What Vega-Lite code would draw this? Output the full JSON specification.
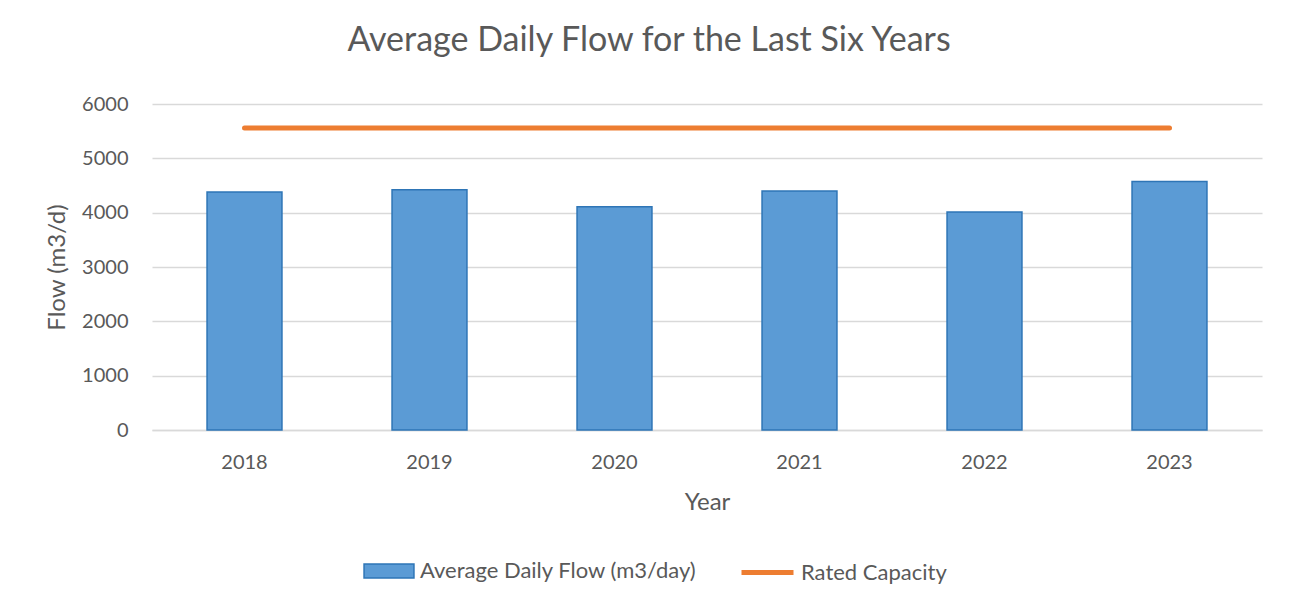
{
  "$schema": "https://vega.github.io/schema/vega-lite/v6.json",
  "width": 1110,
  "height": 326,
  "autosize": {"type": "none"},
  "padding": {"left": 152, "top": 104, "right": 30, "bottom": 177},
  "background": "white",
  "title": {
    "text": "Average Daily Flow for the Last Six Years",
    "fontSize": 34,
    "font": "Lato",
    "color": "#595959",
    "fontWeight": "normal",
    "offset": 36,
    "anchor": "middle",
    "dx": -58
  },
  "data": {
    "values": [
      {"year": "2018", "flow": 4380, "capacity": 5560},
      {"year": "2019", "flow": 4423, "capacity": 5560},
      {"year": "2020", "flow": 4110, "capacity": 5560},
      {"year": "2021", "flow": 4399, "capacity": 5560},
      {"year": "2022", "flow": 4013, "capacity": 5560},
      {"year": "2023", "flow": 4572, "capacity": 5560}
    ]
  },
  "encoding": {
    "x": {
      "field": "year",
      "type": "ordinal",
      "scale": {"paddingInner": 0.595, "paddingOuter": 0.2975},
      "axis": {
        "title": "Year",
        "labelAngle": 0,
        "labelFontSize": 20,
        "labelFont": "Lato",
        "labelColor": "#595959",
        "titleFontSize": 24,
        "titleFont": "Lato",
        "titleFontWeight": "normal",
        "titleColor": "#595959",
        "titlePadding": 18,
        "labelPadding": 22,
        "ticks": false,
        "domainColor": "#d9d9d9",
        "domainWidth": 1.5
      }
    }
  },
  "layer": [
    {
      "mark": {"type": "bar", "stroke": "#2E75B6", "strokeWidth": 1.5},
      "encoding": {
        "y": {
          "field": "flow",
          "type": "quantitative",
          "scale": {"domain": [0, 6000]},
          "axis": {
            "title": "Flow (m3/d)",
            "values": [0, 1000, 2000, 3000, 4000, 5000, 6000],
            "format": "d",
            "labelFontSize": 20,
            "labelFont": "Lato",
            "labelColor": "#595959",
            "titleFontSize": 24,
            "titleFont": "Lato",
            "titleFontWeight": "normal",
            "titleColor": "#595959",
            "titlePadding": 12,
            "labelPadding": 24,
            "ticks": false,
            "domain": false,
            "gridColor": "#d9d9d9",
            "gridWidth": 1.5
          }
        },
        "fill": {
          "datum": "Average Daily Flow (m3/day)",
          "type": "nominal",
          "scale": {"range": ["#5B9BD5"]},
          "legend": {
            "title": null,
            "orient": "none",
            "legendX": 210,
            "legendY": 440,
            "symbolType": "M-0.96,-0.27L0.96,-0.27L0.96,0.27L-0.96,0.27Z",
            "symbolSize": 2704,
            "symbolStrokeColor": "#2E75B6",
            "symbolStrokeWidth": 1.5,
            "labelFontSize": 22,
            "labelFont": "Lato",
            "labelColor": "#595959",
            "labelOffset": 4,
            "labelLimit": 0,
            "padding": 0
          }
        }
      }
    },
    {
      "mark": {"type": "line", "strokeWidth": 5, "strokeCap": "round"},
      "encoding": {
        "y": {"field": "capacity", "type": "quantitative"},
        "stroke": {
          "datum": "Rated Capacity",
          "type": "nominal",
          "scale": {"range": ["#ED7D31"]},
          "legend": {
            "title": null,
            "orient": "none",
            "legendX": 587,
            "legendY": 440,
            "symbolType": "stroke",
            "symbolSize": 2704,
            "symbolStrokeWidth": 5,
            "labelFontSize": 22,
            "labelFont": "Lato",
            "labelColor": "#595959",
            "labelOffset": 5,
            "labelLimit": 0,
            "padding": 0
          }
        }
      }
    }
  ],
  "config": {
    "view": {"stroke": null}
  }
}
